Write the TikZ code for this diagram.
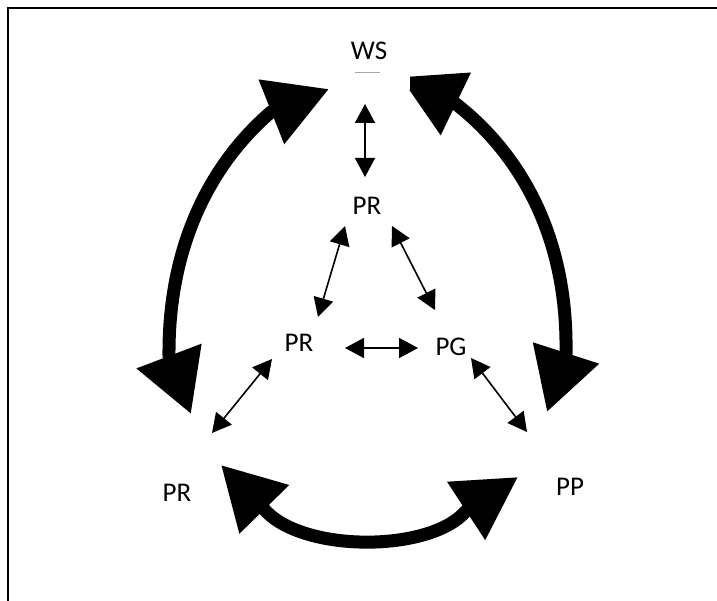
\documentclass[tikz,border=0pt]{standalone}
\usepackage{fontspec}
\setmainfont{Carlito}
\usetikzlibrary{arrows.meta, backgrounds}

\begin{document}
\begin{tikzpicture}[x=1pt, y=-1pt,
    txt/.style={inner sep=0pt, font=\fontsize{27}{32}\selectfont},
    thinarrow/.style={line width=1.6pt, {Triangle[length=19pt,width=20pt]}-{Triangle[length=19pt,width=20pt]}},
    bigarrow/.style={line width=13pt, {Triangle[length=62pt,width=66pt]}-{Triangle[length=62pt,width=66pt]}}]
    \useasboundingbox (0,0) rectangle (717,601);
    \draw[line width=2pt] (8,601) |- (717,8);

    % the labels
    \node[txt, fill=white, minimum width=82pt, minimum height=78pt] (ws) at (369,51) {WS};
    \node[txt] (prtop) at (367,206) {PR};
    \node[txt] (prmid) at (299,343) {PR};
    \node[txt] (pg) at (451,347) {PG};
    \node[txt] (prbot) at (177,493) {PR};
    \node[txt] (pp) at (570,487) {PP};
    \draw[gray!70, line width=0.7pt] ([shift={(-14,21)}]ws.center) -- ([shift={(11,21)}]ws.center);

    % the three big arcs
    \begin{scope}[on background layer]
        \draw[bigarrow] ([shift={(-40,38)}]ws.center) -- (271,112)
            .. controls (215,160) and (168,240) .. (169,356) -- ([shift={(14,-79)}]prbot.center);
        \draw[bigarrow] ([shift={(31,26)}]ws.center) -- (456,104)
            .. controls (515,150) and (568,230) .. (566,353) -- ([shift={(-23,-75)}]pp.center);
        \draw[bigarrow] ([shift={(44,-28)}]prbot.center) -- (263,508)
            .. controls (300,553) and (430,553) .. (466,511) -- ([shift={(-52,-10)}]pp.center);
    \end{scope}

    % the small arrows
    \draw[thinarrow] ([shift={(-4,53)}]ws.center) -- ([shift={(-2,-29)}]prtop.center);
    \draw[thinarrow] ([shift={(-22,20)}]prtop.center) -- ([shift={(19,-26)}]prmid.center);
    \draw[thinarrow] ([shift={(25,20)}]prtop.center) -- ([shift={(-16,-37)}]pg.center);
    \draw[thinarrow] ([shift={(46,5)}]prmid.center) -- ([shift={(-33,1)}]pg.center);
    \draw[thinarrow] ([shift={(-27,16)}]prmid.center) -- ([shift={(35,-60)}]prbot.center);
    \draw[thinarrow] ([shift={(20,11)}]pg.center) -- ([shift={(-43,-55)}]pp.center);
\end{tikzpicture}
\end{document}
